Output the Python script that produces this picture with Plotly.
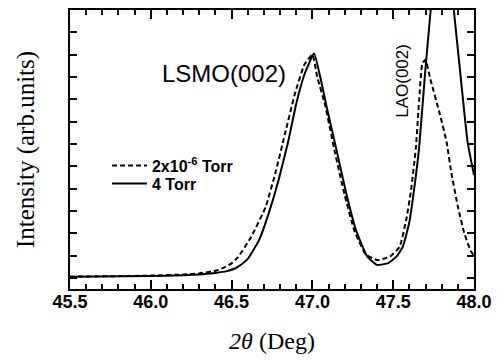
import plotly.graph_objects as go

# 2x10^-6 Torr (dashed)
x_low = [45.5, 46.0, 46.2, 46.3, 46.4, 46.45, 46.50, 46.54, 46.62, 46.71, 46.77, 46.83, 46.89, 46.95,
         47.0, 47.03, 47.08, 47.14, 47.20, 47.26, 47.33, 47.40, 47.48, 47.54, 47.58, 47.61,
         47.64, 47.66, 47.68, 47.70, 47.73, 47.79, 47.83, 47.86, 47.90, 47.94, 47.98, 48.0]
y_low = [0.05, 0.1, 0.15, 0.2, 0.32, 0.45, 0.65, 0.93, 1.82, 3.16, 4.67, 6.44, 8.2, 9.55,
         10.0, 9.0, 7.7, 5.6, 3.7, 2.1, 1.05, 0.8, 0.95, 1.39, 2.58, 3.9,
         5.8, 7.9, 9.6, 9.77, 8.9, 7.3, 6.1, 4.7, 3.2, 2.0, 1.2, 1.0]

# 4 Torr (solid)
x_high = [45.5, 46.0, 46.2, 46.3, 46.4, 46.47, 46.52, 46.56, 46.60, 46.67, 46.73, 46.79, 46.85,
          46.90, 46.95, 47.01, 47.05, 47.09, 47.15, 47.21, 47.27, 47.34, 47.40, 47.47, 47.52,
          47.56, 47.60, 47.63, 47.66, 47.70, 47.80, 47.96, 48.0]
y_high = [0.05, 0.08, 0.12, 0.15, 0.22, 0.3, 0.42, 0.6, 0.85, 1.69, 2.9, 4.36, 6.1,
          7.8, 9.1, 10.06, 8.95, 7.6, 5.7, 3.77, 2.13, 0.95, 0.58, 0.66, 0.95,
          1.4, 2.5, 4.0, 5.8, 9.4, 16.5, 6.1, 4.6]

x_ticks = [45.5, 46.0, 46.5, 47.0, 47.5, 48.0]
x_tick_labels = ["45.5", "46.0", "46.5", "47.0", "47.5", "48.0"]

leg_font = dict(family="Liberation Sans, Arial", size=16, color="black", weight="bold")

fig = go.Figure()
fig.add_trace(go.Scatter(x=x_low, y=y_low, mode="lines", name="2x10<sup>-6</sup> Torr",
                         line=dict(color="black", width=2, dash="5px,3px", shape="spline", smoothing=0.4),
                         legend="legend"))
fig.add_trace(go.Scatter(x=x_high, y=y_high, mode="lines", name="4 Torr",
                         line=dict(color="black", width=2, shape="spline", smoothing=0.4),
                         legend="legend2"))

fig.update_layout(
    width=500, height=364,
    margin=dict(l=62, r=34, t=0, b=83),
    paper_bgcolor="white", plot_bgcolor="white",
    showlegend=True,
    legend=dict(x=0.0915, y=0.503, xanchor="left", yanchor="top", font=leg_font,
                bgcolor="rgba(0,0,0,0)", itemwidth=35),
    legend2=dict(x=0.0915, y=0.439, xanchor="left", yanchor="top", font=leg_font,
                 bgcolor="rgba(0,0,0,0)", itemwidth=35),
    xaxis=dict(range=[45.5, 48.0], tickmode="array", tickvals=x_ticks, ticktext=x_tick_labels,
               ticks="inside", ticklen=9, tickwidth=1.5, tickcolor="black",
               minor=dict(dtick=0.1, ticks="inside", ticklen=5, tickwidth=1.5, tickcolor="black"),
               showline=True, linecolor="black", linewidth=2, mirror="ticks",
               showgrid=False, zeroline=False, ticklabelstandoff=-5,
               tickfont=dict(family="Liberation Sans, Arial", size=18, color="black", weight="bold"),
               title=dict(text="<i>2θ</i> (Deg)", standoff=22,
                          font=dict(family="Liberation Serif, Times New Roman", size=24, color="black"))),
    yaxis=dict(range=[-0.5, 12], dtick=1, tick0=0, ticks="inside", ticklen=7, tickwidth=1.5,
               tickcolor="black", showticklabels=False,
               showline=True, linecolor="black", linewidth=2, mirror="ticks",
               showgrid=False, zeroline=False,
               title=dict(text="Intensity (arb.units)", standoff=26,
                          font=dict(family="Liberation Serif, Times New Roman", size=25, color="black"))),
)

fig.add_annotation(x=46.453, y=9.16, text="LSMO(002)", showarrow=False, xanchor="center", yanchor="middle",
                   font=dict(family="Liberation Sans, Arial", size=24, color="black"))
fig.add_annotation(x=47.556, y=8.84, text="LAO(002)", showarrow=False,
                   textangle=-90, xanchor="center", yanchor="middle",
                   font=dict(family="Liberation Sans, Arial", size=17, color="black"))

fig.write_html("out.html")
